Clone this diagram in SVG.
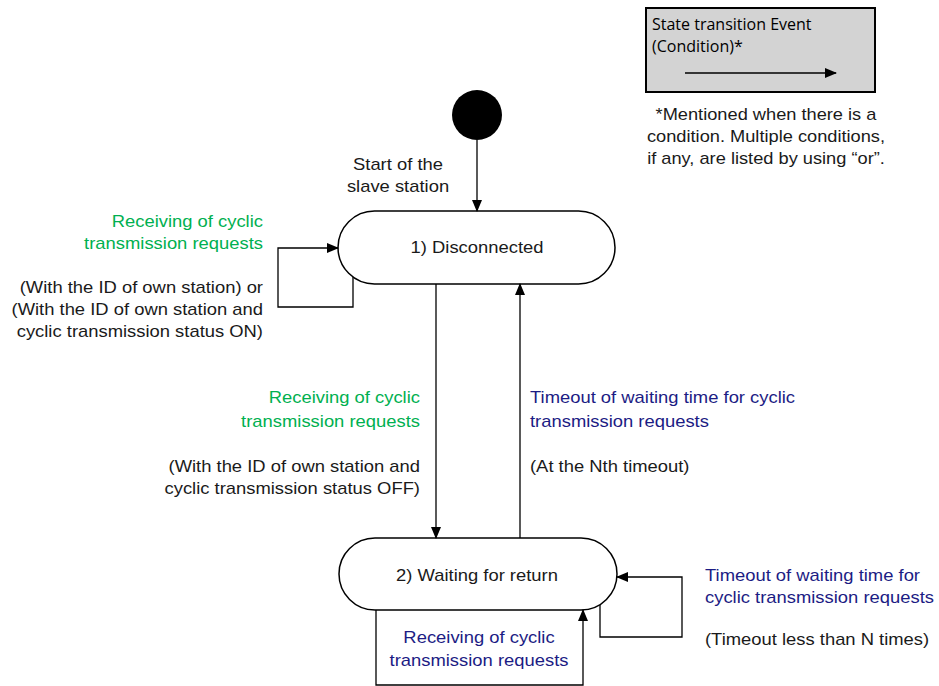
<svg xmlns="http://www.w3.org/2000/svg" width="939" height="686" viewBox="0 0 939 686">
<style>
.t{font-family:"Liberation Sans",Arial,sans-serif;font-size:16px;fill:#1a1a1a}
.g{fill:#00b050}
.b{fill:#1c1c84}
.e{text-anchor:end}
.m{text-anchor:middle}
.st{fill:#fff;stroke:#000;stroke-width:1.5}
.c{fill:none;stroke:#000;stroke-width:1.3}
.lg{font-family:"Open Sans","Liberation Sans",sans-serif;font-size:16px;fill:#000}
</style>
<defs>
<marker id="ah" markerWidth="12" markerHeight="10" refX="11" refY="5" orient="auto" markerUnits="userSpaceOnUse">
<path d="M0,0 L12,5 L0,10 Z" fill="#000"/>
</marker>
</defs>
<g id="legend">
<rect x="646" y="8" width="229" height="84" fill="#d3d3d3" stroke="#000" stroke-width="2"/>
<text class="lg" x="652" y="30">State transition Event</text>
<text class="lg" x="652" y="52">(Condition)*</text>
<line x1="685" y1="73" x2="836" y2="73" stroke="#000" stroke-width="1.3" marker-end="url(#ah)"/>
<text class="t m" transform="matrix(1.14 0 0 1 766 120)">*Mentioned when there is a</text>
<text class="t m" transform="matrix(1.14 0 0 1 766 142)">condition. Multiple conditions,</text>
<text class="t m" transform="matrix(1.14 0 0 1 766 164)">if any, are listed by using “or”.</text>
</g>
<g id="start">
<circle cx="477" cy="115" r="25" fill="#000"/>
</g>
<g id="state1">
<rect class="st" x="338" y="211" width="277" height="73" rx="36.5"/>
<text class="t m" transform="matrix(1.15 0 0 1 477 253)">1) Disconnected</text>
</g>
<g id="state2">
<rect class="st" x="339" y="538" width="278" height="72" rx="36"/>
<text class="t m" transform="matrix(1.15 0 0 1 477 581)">2) Waiting for return</text>
</g>
<g id="connectors">
<path class="c" d="M477,140 V211" marker-end="url(#ah)"/>
<path class="c" d="M353,277 V307 H278 V248 H338" marker-end="url(#ah)"/>
<path class="c" d="M436,284 V538" marker-end="url(#ah)"/>
<path class="c" d="M520,538 V284" marker-end="url(#ah)"/>
<path class="c" d="M376,610 V685 H583 V610" marker-end="url(#ah)"/>
<path class="c" d="M600,605 V637 H682 V577 H617" marker-end="url(#ah)"/>
</g>
<g id="labels">
<text class="t m" transform="matrix(1.15 0 0 1 398 170)">Start of the</text>
<text class="t m" transform="matrix(1.15 0 0 1 398 192)">slave station</text>
<text class="t e g" transform="matrix(1.15 0 0 1 263 227)">Receiving of cyclic</text>
<text class="t e g" transform="matrix(1.15 0 0 1 263 249)">transmission requests</text>
<text class="t e" transform="matrix(1.15 0 0 1 263 293)">(With the ID of own station) or</text>
<text class="t e" transform="matrix(1.15 0 0 1 263 315)">(With the ID of own station and</text>
<text class="t e" transform="matrix(1.15 0 0 1 263 337)">cyclic transmission status ON)</text>
<text class="t e g" transform="matrix(1.15 0 0 1 420 403)">Receiving of cyclic</text>
<text class="t e g" transform="matrix(1.15 0 0 1 420 427)">transmission requests</text>
<text class="t e" transform="matrix(1.15 0 0 1 420 472)">(With the ID of own station and</text>
<text class="t e" transform="matrix(1.15 0 0 1 420 494)">cyclic transmission status OFF)</text>
<text class="t b" transform="matrix(1.15 0 0 1 530 403)">Timeout of waiting time for cyclic</text>
<text class="t b" transform="matrix(1.15 0 0 1 530 427)">transmission requests</text>
<text class="t" transform="matrix(1.15 0 0 1 530 472)">(At the Nth timeout)</text>
<text class="t m b" transform="matrix(1.15 0 0 1 479 643)">Receiving of cyclic</text>
<text class="t m b" transform="matrix(1.15 0 0 1 479 666)">transmission requests</text>
<text class="t b" transform="matrix(1.15 0 0 1 705 581)">Timeout of waiting time for</text>
<text class="t b" transform="matrix(1.15 0 0 1 705 603)">cyclic transmission requests</text>
<text class="t" transform="matrix(1.15 0 0 1 705 645)">(Timeout less than N times)</text>
</g>
</svg>
